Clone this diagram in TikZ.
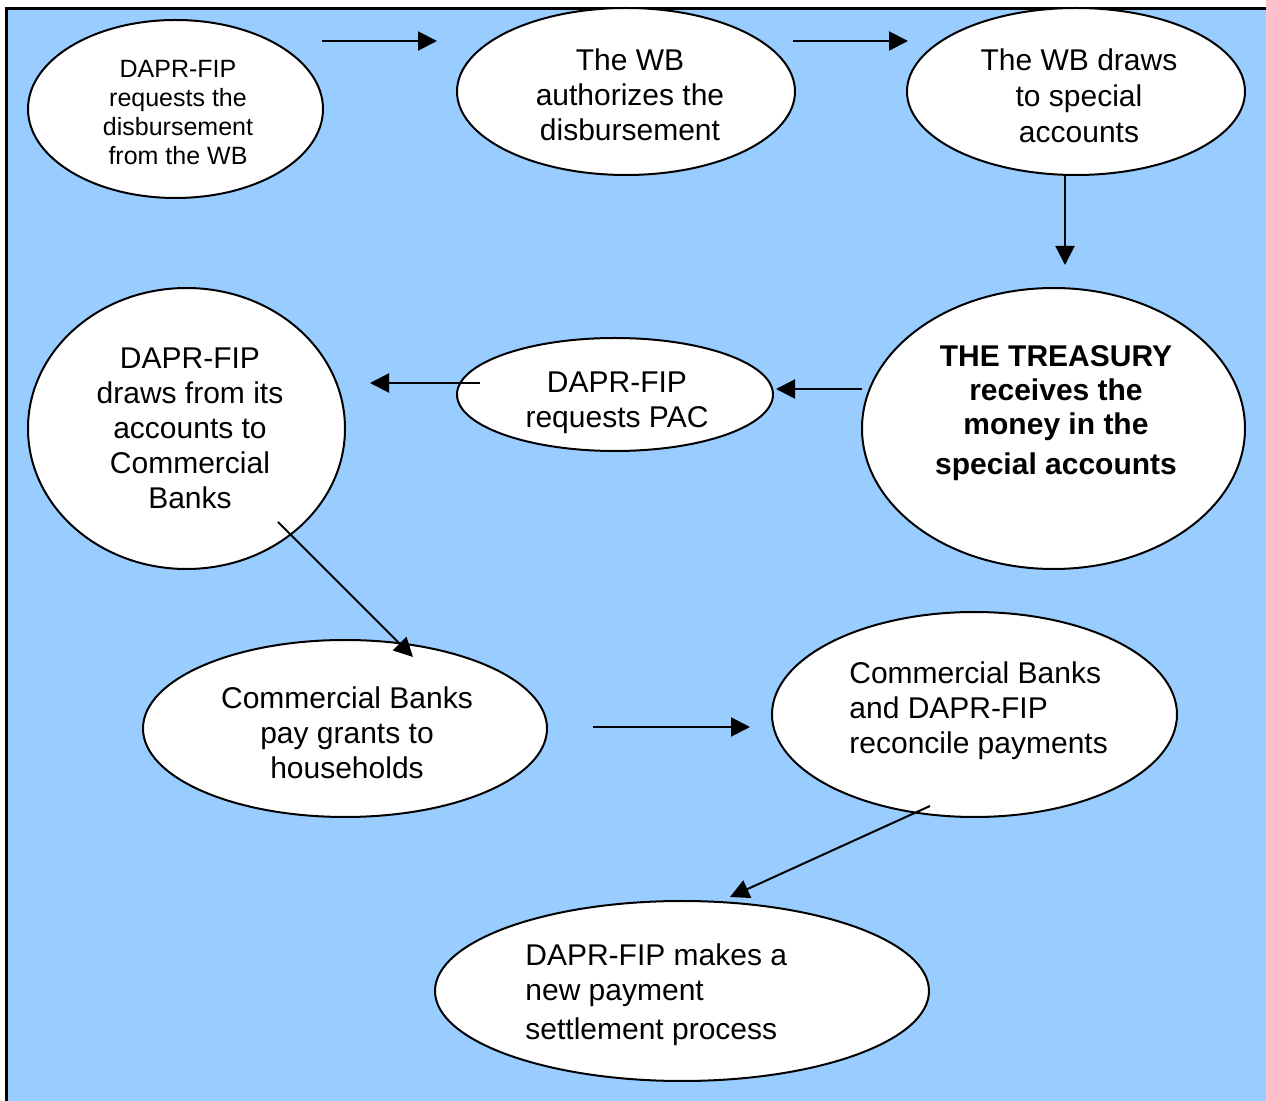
\documentclass[tikz,border=0pt]{standalone}
\usepackage{fontspec}
\setmainfont{Liberation Sans}
\usetikzlibrary{shapes.geometric,arrows.meta}
\definecolor{bgblue}{HTML}{99CCFF}
\begin{document}
\begin{tikzpicture}[x=0.5pt,y=-0.5pt,
  oval/.style={ellipse,draw=black,fill=white,line width=1pt,inner sep=0pt},
  lbl/.style={align=center,font=\fontsize{15}{17.5}\selectfont,inner sep=0pt},
  lbll/.style={align=left,anchor=west,font=\fontsize{15}{17.5}\selectfont,inner sep=0pt},
  flow/.style={line width=1pt,-{Triangle[length=9.5pt,width=9.5pt]}}]
\useasboundingbox (0,0) rectangle (1266,1101);
\fill[bgblue] (8,10) rectangle (1266,1101);
\draw[line width=1.5pt] (6.5,1101) -- (6.5,8.5) -- (1266,8.5);

% ellipses
\node[oval,minimum width=147.5pt,minimum height=89pt] (e1) at (175.5,109) {};
\node[oval,minimum width=169pt,minimum height=83.5pt] (e2) at (626,91.5) {};
\node[oval,minimum width=169pt,minimum height=83.5pt] (e3) at (1076,91.5) {};
\node[oval,minimum width=191.5pt,minimum height=140.5pt] (e4) at (1053.5,428.5) {};
\node[oval,minimum width=158pt,minimum height=56.5pt] (e5) at (615,394.5) {};
\node[oval,minimum width=158.5pt,minimum height=140.5pt] (e6) at (186.5,428.5) {};
\node[oval,minimum width=202pt,minimum height=88.5pt] (e7) at (345,728.5) {};
\node[oval,minimum width=202.5pt,minimum height=102.5pt] (e8) at (974.5,714.5) {};
\node[oval,minimum width=247pt,minimum height=90pt] (e9) at (682,991) {};

% arrow end points
\coordinate (a1s) at (322,41);   \coordinate (a1e) at (437,41);
\coordinate (a2s) at (793,41);   \coordinate (a2e) at (908,41);
\coordinate (a3s) at (1065,175); \coordinate (a3e) at (1065,265);
\coordinate (a4s) at (862,389);  \coordinate (a4e) at (776,389);
\coordinate (a5s) at (480,383);  \coordinate (a5e) at (370,383);
\coordinate (a6s) at (278,522);  \coordinate (a6e) at (413,657);
\coordinate (a7s) at (593,727);  \coordinate (a7e) at (750,727);
\coordinate (a8s) at (930,806);  \coordinate (a8e) at (730,897);

\draw[flow] (a1s) -- (a1e);
\draw[flow] (a2s) -- (a2e);
\draw[flow] (a3s) -- (a3e);
\draw[flow] (a4s) -- (a4e);
\draw[flow] (a5s) -- (a5e);
\draw[flow] (a6s) -- (a6e);
\draw[flow] (a7s) -- (a7e);
\draw[flow] (a8s) -- (a8e);

% texts
\node[lbl,font=\fontsize{12.5}{14.5}\selectfont] (t1) at (178,113)
  {DAPR-FIP\\requests the\\disbursement\\from the WB};
\node[lbl] (t2) at (630,95) {The WB\\authorizes the\\disbursement};
\node[lbl,font=\fontsize{15}{18}\selectfont] (t3) at (1079,96) {The WB draws\\to special\\accounts};
\node[lbl,font=\fontsize{15}{17}\selectfont\bfseries] (t4) at (1056,413)
  {THE TREASURY\\receives the\\money in the\\[3pt]special accounts};
\node[lbl] (t5) at (617,403) {DAPR-FIP\\requests PAC};
\node[lbl] (t6) at (190,428) {DAPR-FIP\\draws from its\\accounts to\\Commercial\\Banks};
\node[lbl] (t7) at (347,733) {Commercial Banks\\pay grants to\\households};
\node[lbll] (t8) at (849,711) {Commercial Banks\\and DAPR-FIP\\reconcile payments};
\node[lbll] (t9) at (525,995) {DAPR-FIP makes a\\new payment\\[2pt]settlement process};
\end{tikzpicture}
\end{document}
